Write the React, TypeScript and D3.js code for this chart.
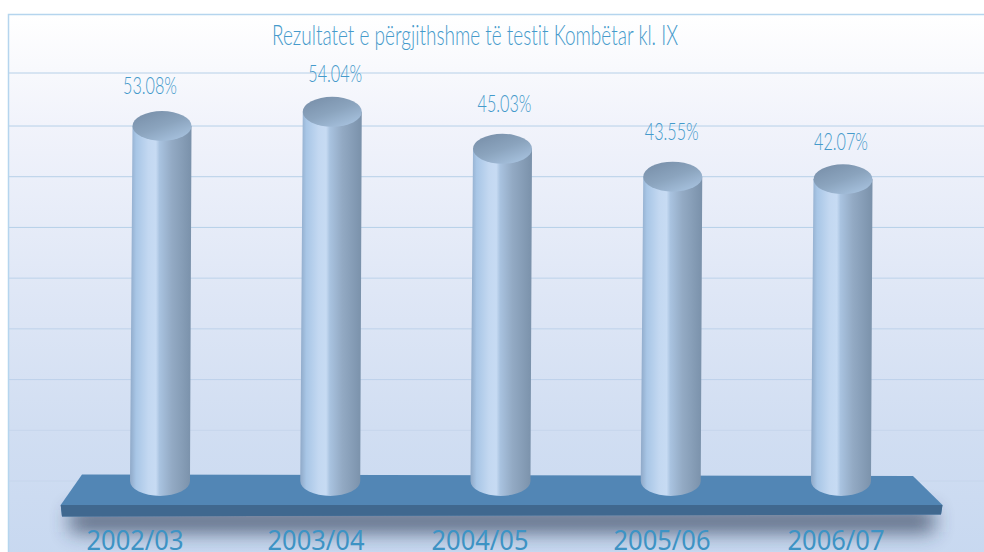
import React from "react";
import * as d3 from "d3";

const title = "Rezultatet e përgjithshme të testit Kombëtar kl. IX";
const years = ["2002/03", "2003/04", "2004/05", "2005/06", "2006/07"];
const results = [53.08, 54.04, 45.03, 43.55, 42.07];
// The drawn column heights do not follow the printed values; read in grid units off the picture.
const drawnLevels = [7.0, 7.28, 6.55, 6.0, 5.95];
const gridLevels = [0, 1, 2, 3, 4, 5, 6, 7, 8.05];

// layout
const W = 984, H = 552;
const labelOffsets = [-12, 3, 2, -1, -2];
const labelGaps = [32, 30, 37, 37, 29];
const yearCentres = [135, 316, 480, 662, 836];
const RX = 29.5, RY = 15;
const ligaturesOff = { fontVariantLigatures: "none" } as React.CSSProperties;

export default function App() {
  const x = d3.scalePoint<string>().domain(years).range([162, 843]);
  const y = d3.scaleLinear().domain([0, 7]).range([481, 126]);
  const area = d3.line();
  const cyl = (cx: number, top: number) => {
    const bx = cx - 2, by = y(0);
    return `M${cx - RX},${top} L${bx - RX - 0.5},${by} A${RX + 0.5},${RY} 0 0 0 ${bx + RX + 0.5},${by} L${cx + RX},${top} Z`;
  };
  return (
    <svg width={W} height={H} style={{ position: "absolute", left: 0, top: 0, display: "block" }}>
      <defs>
        <linearGradient id="bg" x1="0" y1="0" x2="0" y2="1">
          <stop offset="0" stopColor="#ffffff" />
          <stop offset="0.2" stopColor="#f1f3fb" />
          <stop offset="0.5" stopColor="#dfe7f6" />
          <stop offset="0.75" stopColor="#d1def2" />
          <stop offset="1" stopColor="#c7d8f0" />
        </linearGradient>
        <linearGradient id="cyl" x1="0" y1="0" x2="1" y2="0">
          <stop offset="0" stopColor="#8fa9c8" />
          <stop offset="0.1" stopColor="#a8c6e6" />
          <stop offset="0.3" stopColor="#c3d8f1" />
          <stop offset="0.42" stopColor="#c7dbf3" />
          <stop offset="0.48" stopColor="#a9c3e0" />
          <stop offset="0.68" stopColor="#93aac4" />
          <stop offset="1" stopColor="#7a91aa" />
        </linearGradient>
        <linearGradient id="cap" x1="0.15" y1="0" x2="0.85" y2="1">
          <stop offset="0" stopColor="#788fa9" />
          <stop offset="0.5" stopColor="#8ba4be" />
          <stop offset="1" stopColor="#a9c4e1" />
        </linearGradient>
        <filter id="blur" x="-10%" y="-150%" width="120%" height="400%">
          <feGaussianBlur stdDeviation="10" />
        </filter>
      </defs>

      <rect x={8.5} y={14.5} width={W} height={H} fill="url(#bg)" stroke="#b5d5ee" strokeWidth={1.5} />

      {gridLevels.map((g, i) => (
        <line key={i} x1={9} x2={W} y1={i === 8 ? 73 : y(g)} y2={i === 8 ? 73 : y(g)}
          stroke={g < 1.5 ? "#c6d5ec" : g < 5 ? "#bdd2ea" : "#b6d0e8"} strokeWidth={1} />
      ))}

      <text x={475} y={44.5} textAnchor="middle" fontFamily="Lato, 'Noto Sans', sans-serif" fontWeight={300}
        fontSize={28} fill="#459acb" textLength={406} lengthAdjust="spacingAndGlyphs" style={ligaturesOff}>{title}</text>

      {/* platform */}
      <path d={area([[70, 510], [934, 510], [934, 532], [70, 532]])! + "Z"} fill="#263650" opacity={0.72} filter="url(#blur)" />
      <path d={area([[82, 474.5], [913, 476], [942.5, 505], [941, 514.5], [62, 516.5], [60.7, 505]])! + "Z"} fill="#5286b5" />
      <path d={area([[60.7, 505], [942.5, 505], [941, 514.5], [62, 516.5]])! + "Z"} fill="#40688f" />

      {years.map((yr, i) => {
        const cx = x(yr)!;
        const top = y(drawnLevels[i]);
        return (
          <g key={yr}>
            <path d={cyl(cx, top)} fill="url(#cyl)" />
            <ellipse cx={cx} cy={top} rx={RX} ry={RY} fill="url(#cap)" />
            <text x={cx + labelOffsets[i]} y={top - labelGaps[i]} textAnchor="middle"
              fontFamily="Lato, 'Noto Sans', sans-serif" fontWeight={300} fontSize={23} fill="#459acb"
              textLength={54} lengthAdjust="spacingAndGlyphs" style={ligaturesOff}>{results[i].toFixed(2)}%</text>
            <text x={yearCentres[i]} y={549.5} textAnchor="middle"
              fontFamily="'Noto Sans', sans-serif" fontSize={26.5} fill="#3d93c4"
              textLength={97} lengthAdjust="spacingAndGlyphs">{yr}</text>
          </g>
        );
      })}
    </svg>
  );
}
